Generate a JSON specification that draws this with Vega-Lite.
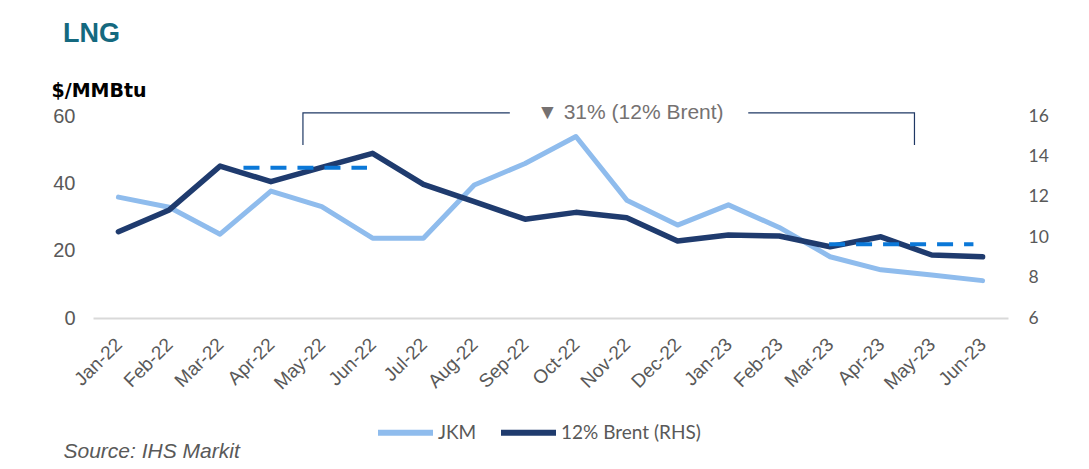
{
  "$schema": "https://vega.github.io/schema/vega-lite/v6.json",
  "width": 915,
  "height": 202,
  "autosize": {"type": "none"},
  "padding": {"left": 93, "top": 116, "right": 81, "bottom": 151},
  "background": "white",
  "title": {
    "text": "LNG",
    "anchor": "start",
    "frame": "group",
    "dx": -30,
    "offset": 12,
    "baseline": "alphabetic",
    "font": "Liberation Sans",
    "fontSize": 27,
    "fontWeight": "bold",
    "color": "#14697f"
  },
  "datasets": {
    "series": [
      {"month": "Jan-22", "idx": 0, "jkm": 35.9, "brent": 10.27},
      {"month": "Feb-22", "idx": 1, "jkm": 32.9, "brent": 11.35},
      {"month": "Mar-22", "idx": 2, "jkm": 24.9, "brent": 13.52},
      {"month": "Apr-22", "idx": 3, "jkm": 37.7, "brent": 12.75},
      {"month": "May-22", "idx": 4, "jkm": 33.1, "brent": 13.46},
      {"month": "Jun-22", "idx": 5, "jkm": 23.7, "brent": 14.15},
      {"month": "Jul-22", "idx": 6, "jkm": 23.7, "brent": 12.62},
      {"month": "Aug-22", "idx": 7, "jkm": 39.5, "brent": 11.76},
      {"month": "Sep-22", "idx": 8, "jkm": 45.9, "brent": 10.89},
      {"month": "Oct-22", "idx": 9, "jkm": 53.9, "brent": 11.23},
      {"month": "Nov-22", "idx": 10, "jkm": 35.0, "brent": 10.96},
      {"month": "Dec-22", "idx": 11, "jkm": 27.6, "brent": 9.81},
      {"month": "Jan-23", "idx": 12, "jkm": 33.6, "brent": 10.11},
      {"month": "Feb-23", "idx": 13, "jkm": 26.9, "brent": 10.06},
      {"month": "Mar-23", "idx": 14, "jkm": 18.2, "brent": 9.53},
      {"month": "Apr-23", "idx": 15, "jkm": 14.3, "brent": 10.02},
      {"month": "May-23", "idx": 16, "jkm": 12.8, "brent": 9.12},
      {"month": "Jun-23", "idx": 17, "jkm": 11.1, "brent": 9.03}
    ],
    "dash": [
      {"seg": "2022", "idx": 2.46, "brent": 13.44},
      {"seg": "2022", "idx": 4.89, "brent": 13.44},
      {"seg": "2023", "idx": 13.98, "brent": 9.65},
      {"seg": "2023", "idx": 16.82, "brent": 9.65}
    ],
    "bracket": [
      {"seg": "left", "ord": 0, "idx": 3.63, "jkm": 51.4},
      {"seg": "left", "ord": 1, "idx": 3.63, "jkm": 60.9},
      {"seg": "left", "ord": 2, "idx": 7.7, "jkm": 60.9},
      {"seg": "right", "ord": 0, "idx": 12.39, "jkm": 60.9},
      {"seg": "right", "ord": 1, "idx": 15.66, "jkm": 60.9},
      {"seg": "right", "ord": 2, "idx": 15.66, "jkm": 51.4}
    ],
    "note": [
      {"idx": 10.07, "jkm": 60.9, "label": "▼ 31% (12% Brent)"}
    ]
  },
  "encoding": {
    "x": {
      "field": "idx",
      "type": "quantitative",
      "scale": {"domain": [-0.5, 17.5], "nice": false, "zero": false},
      "axis": {
        "values": [0, 1, 2, 3, 4, 5, 6, 7, 8, 9, 10, 11, 12, 13, 14, 15, 16, 17],
        "labelExpr": "['Jan-22','Feb-22','Mar-22','Apr-22','May-22','Jun-22','Jul-22','Aug-22','Sep-22','Oct-22','Nov-22','Dec-22','Jan-23','Feb-23','Mar-23','Apr-23','May-23','Jun-23'][datum.value]",
        "labelAngle": -45,
        "labelAlign": "right",
        "labelBaseline": "middle",
        "labelPadding": 23,
        "labelOverlap": false,
        "labelFlush": false,
        "labelFont": "Liberation Sans",
        "labelFontSize": 19,
        "labelColor": "#595959",
        "ticks": false,
        "grid": false,
        "domainColor": "#d9d9d9",
        "domainWidth": 2,
        "title": "Source: IHS Markit",
        "titleX": -30,
        "titleY": 139,
        "titleAlign": "left",
        "titleAnchor": "start",
        "titleBaseline": "alphabetic",
        "titleFont": "Liberation Sans",
        "titleFontSize": 21,
        "titleFontStyle": "italic",
        "titleFontWeight": "normal",
        "titleColor": "#595959"
      }
    }
  },
  "layer": [
    {
      "encoding": {
        "y": {
          "field": "jkm",
          "type": "quantitative",
          "scale": {"domain": [0, 60], "nice": false},
          "axis": {
            "orient": "left",
            "values": [0, 20, 40, 60],
            "title": "$/MMBtu",
            "titleAngle": 0,
            "titleAlign": "left",
            "titleAnchor": "start",
            "titleBaseline": "alphabetic",
            "titleX": -42,
            "titleY": -20,
            "titleFont": "DejaVu Sans",
            "titleFontSize": 19,
            "titleFontWeight": "bold",
            "titleColor": "#000000",
            "labelFont": "Liberation Sans",
            "labelFontSize": 20,
            "labelColor": "#595959",
            "labelPadding": 18,
            "ticks": false,
            "domain": false,
            "grid": false
          }
        }
      },
      "layer": [
        {
          "data": {"name": "series"},
          "mark": {"type": "line", "strokeWidth": 5, "strokeCap": "round", "strokeJoin": "round"},
          "encoding": {
            "color": {
              "datum": "JKM",
              "type": "nominal",
              "scale": {"domain": ["JKM", "12% Brent (RHS)"], "range": ["#8fbced", "#1f3b6e"]},
              "legend": {
                "orient": "none",
                "legendX": 282,
                "legendY": 286,
                "direction": "horizontal",
                "title": null,
                "padding": 0,
                "symbolType": "stroke",
                "symbolSize": 3025,
                "symbolStrokeWidth": 6,
                "labelFont": "Lato",
                "labelFontSize": 19,
                "labelColor": "#595959",
                "labelOffset": 2,
                "columnPadding": 12
              }
            }
          }
        },
        {
          "data": {"name": "bracket"},
          "mark": {"type": "line", "stroke": "#1f3864", "strokeWidth": 1.2},
          "encoding": {
            "detail": {"field": "seg", "type": "nominal"},
            "order": {"field": "ord", "type": "quantitative"}
          }
        },
        {
          "data": {"name": "note"},
          "mark": {"type": "text", "font": "Liberation Sans", "fontSize": 21, "color": "#757171", "align": "center", "baseline": "middle"},
          "encoding": {
            "text": {"field": "label", "type": "nominal"}
          }
        }
      ]
    },
    {
      "encoding": {
        "y": {
          "field": "brent",
          "type": "quantitative",
          "scale": {"domain": [6, 16], "nice": false, "zero": false},
          "axis": {
            "orient": "right",
            "values": [6, 8, 10, 12, 14, 16],
            "title": null,
            "labelFont": "Lato",
            "labelFontSize": 17.5,
            "labelColor": "#595959",
            "labelPadding": 20,
            "ticks": false,
            "domain": false,
            "grid": false
          }
        }
      },
      "layer": [
        {
          "data": {"name": "series"},
          "mark": {"type": "line", "strokeWidth": 5.5, "strokeCap": "round", "strokeJoin": "round"},
          "encoding": {
            "color": {"datum": "12% Brent (RHS)", "type": "nominal"}
          }
        },
        {
          "data": {"name": "dash"},
          "mark": {"type": "line", "stroke": "#0b78d8", "strokeWidth": 4, "strokeDash": [16, 11]},
          "encoding": {
            "detail": {"field": "seg", "type": "nominal"}
          }
        }
      ]
    }
  ],
  "resolve": {"scale": {"y": "independent"}},
  "config": {
    "view": {"stroke": null}
  }
}
